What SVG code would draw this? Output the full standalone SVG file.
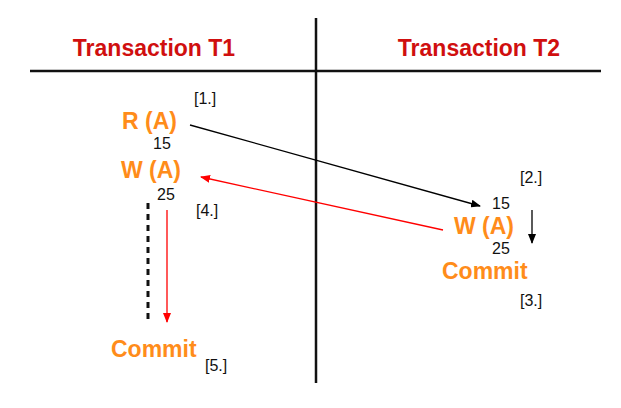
<svg xmlns="http://www.w3.org/2000/svg" width="621" height="408" viewBox="0 0 621 408">
<style>
.hdr{font-family:"Liberation Sans",Arial,sans-serif;font-weight:bold;font-size:23px;fill:#d00f0f}
.op{font-family:"Liberation Sans",Arial,sans-serif;font-weight:bold;font-size:23px;fill:#ff8c1a}
.num{font-family:"Liberation Sans",Arial,sans-serif;font-size:16px;fill:#111}
</style>
<defs>
<marker id="ab" markerWidth="10" markerHeight="8" refX="9" refY="4" orient="auto" markerUnits="userSpaceOnUse"><path d="M0,0 L10,4 L0,8 Z" fill="#000"/></marker>
<marker id="ar" markerWidth="10" markerHeight="8" refX="9" refY="4" orient="auto" markerUnits="userSpaceOnUse"><path d="M0,0 L10,4 L0,8 Z" fill="#f00"/></marker>
</defs>
<rect width="621" height="408" fill="#fff"/>
<g id="frame">
<line x1="30" y1="71" x2="601" y2="71" stroke="#111" stroke-width="2.5"/>
<line x1="316" y1="18" x2="316" y2="383" stroke="#111" stroke-width="2.5"/>
<text class="hdr" x="154" y="56" text-anchor="middle">Transaction T1</text>
<text class="hdr" x="479" y="56" text-anchor="middle">Transaction T2</text>
</g>
<g id="connectors">
<line x1="190" y1="125" x2="480" y2="206" stroke="#000" stroke-width="1.3" marker-end="url(#ab)"/>
<line x1="443" y1="230" x2="201" y2="177" stroke="#f00" stroke-width="1.3" marker-end="url(#ar)"/>
<line x1="532" y1="210" x2="532" y2="243" stroke="#000" stroke-width="1.3" marker-end="url(#ab)"/>
<line x1="148" y1="203" x2="148" y2="320" stroke="#111" stroke-width="3" stroke-dasharray="6,5"/>
<line x1="167" y1="210" x2="167" y2="322" stroke="#f00" stroke-width="1.3" marker-end="url(#ar)"/>
</g>
<g id="t1-read">
<text class="op" x="122" y="129">R (A)</text>
<text class="num" x="153" y="149">15</text>
<text class="num" x="194" y="104">[1.]</text>
</g>
<g id="t1-write">
<text class="op" x="121" y="178">W (A)</text>
<text class="num" x="157" y="200">25</text>
<text class="num" x="196" y="216">[4.]</text>
</g>
<g id="t2-write">
<text class="num" x="520" y="183">[2.]</text>
<text class="num" x="492" y="209">15</text>
<text class="op" x="454" y="234">W (A)</text>
<text class="num" x="492" y="254">25</text>
</g>
<g id="t2-commit">
<text class="op" x="442" y="279">Commit</text>
<text class="num" x="520" y="306">[3.]</text>
</g>
<g id="t1-commit">
<text class="op" x="111" y="357">Commit</text>
<text class="num" x="205" y="371">[5.]</text>
</g>
</svg>
